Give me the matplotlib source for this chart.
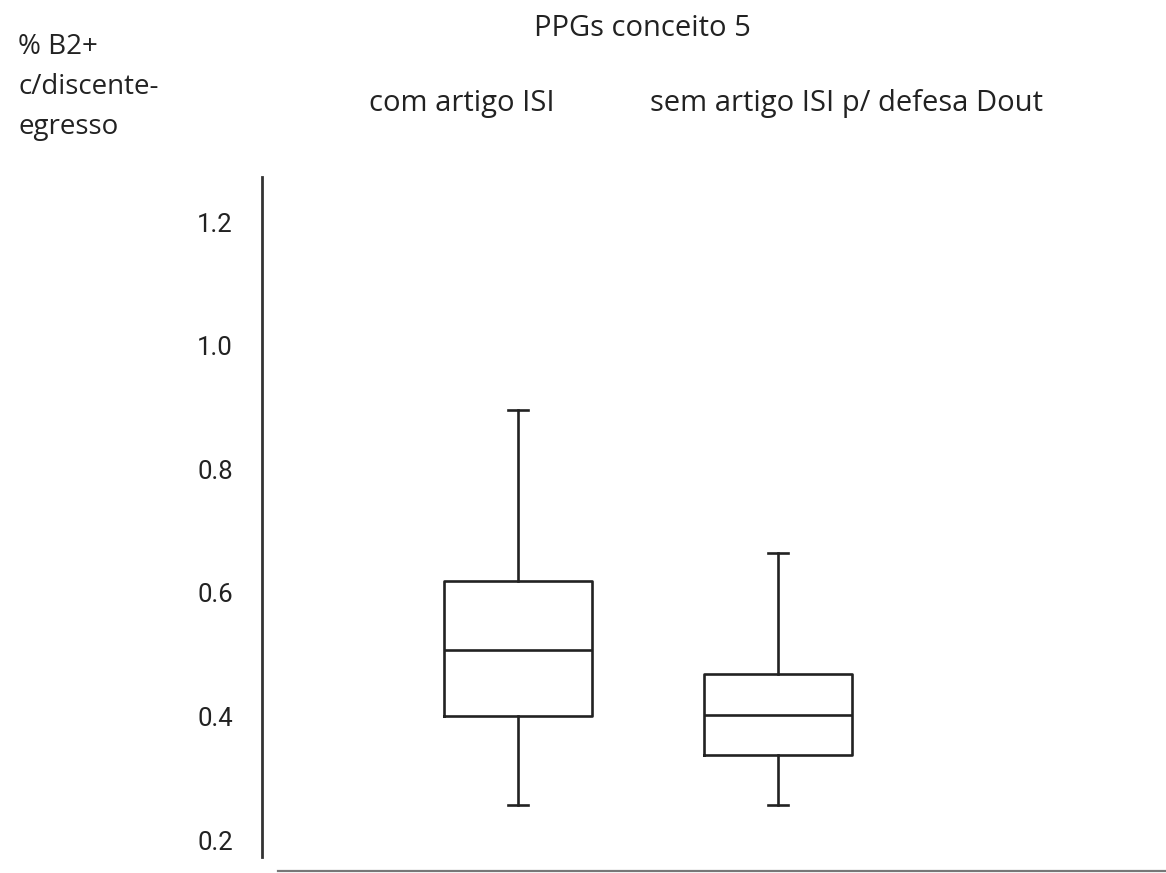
import matplotlib
matplotlib.use('Agg')
import matplotlib.pyplot as plt
from matplotlib.lines import Line2D

# box summaries for the two groups of programmes
groups = ['com artigo ISI', 'sem artigo ISI p/ defesa Dout']
whisk_lo = [0.257, 0.257]
q1 = [0.400, 0.338]
medians = [0.508, 0.402]
q3 = [0.619, 0.469]
whisk_hi = [0.896, 0.665]
yticks = [0.2, 0.4, 0.6, 0.8, 1.0, 1.2]

W, H = 1166, 873
fig = plt.figure(figsize=(W / 100, H / 100), dpi=100)
ax = fig.add_axes([262 / W, 0, 1 - 262 / W, (873 - 160) / H])

stats = []
for i in range(len(groups)):
    stats.append({'med': medians[i], 'q1': q1[i], 'q3': q3[i],
                  'whislo': whisk_lo[i], 'whishi': whisk_hi[i], 'fliers': []})

lc = '#222222'
ax.bxp(stats, positions=[1, 2], widths=0.57, capwidths=0.08, showfliers=False,
       boxprops=dict(color=lc, linewidth=1.9),
       medianprops=dict(color=lc, linewidth=1.9),
       whiskerprops=dict(color=lc, linewidth=1.9),
       capprops=dict(color=lc, linewidth=1.9))

ax.set_xlim(0.0154, 3.492)
ax.set_ylim(0.1466, 1.301)
ax.set_xticks([])
ax.set_yticks(yticks)
ax.set_yticklabels(['%.1f' % t for t in yticks], fontfamily='Roboto', fontsize=18.5, color='#222222')
ax.tick_params(axis='y', length=0, pad=21)
for s in ['top', 'right', 'bottom']:
    ax.spines[s].set_visible(False)
ax.spines['left'].set_bounds(0.1725, 1.274)
ax.spines['left'].set_linewidth(2.0)
ax.spines['left'].set_color('#333333')

# baseline under the boxes
fig.add_artist(Line2D([278 / W, 1.0], [1 - 871 / H, 1 - 871 / H], color='#777777', linewidth=1.6))

tf = 'Open Sans'
fs = 21
fig.text(642 / W, 1 - 28 / H, 'PPGs conceito 5', ha='center', va='center', fontfamily=tf, fontsize=fs, color='#222222')
fig.text(462 / W, 1 - 103 / H, groups[0], ha='center', va='center', fontfamily=tf, fontsize=fs, color='#222222')
fig.text(846 / W, 1 - 103 / H, groups[1], ha='center', va='center', fontfamily=tf, fontsize=fs, color='#222222')
fig.text(18 / W, 1 - 87 / H, '% B2+\nc/discente-\negresso', ha='left', va='center', fontfamily=tf,
         fontsize=20, color='#222222', linespacing=1.55)

fig.savefig('out.png', dpi=100, facecolor='white')
